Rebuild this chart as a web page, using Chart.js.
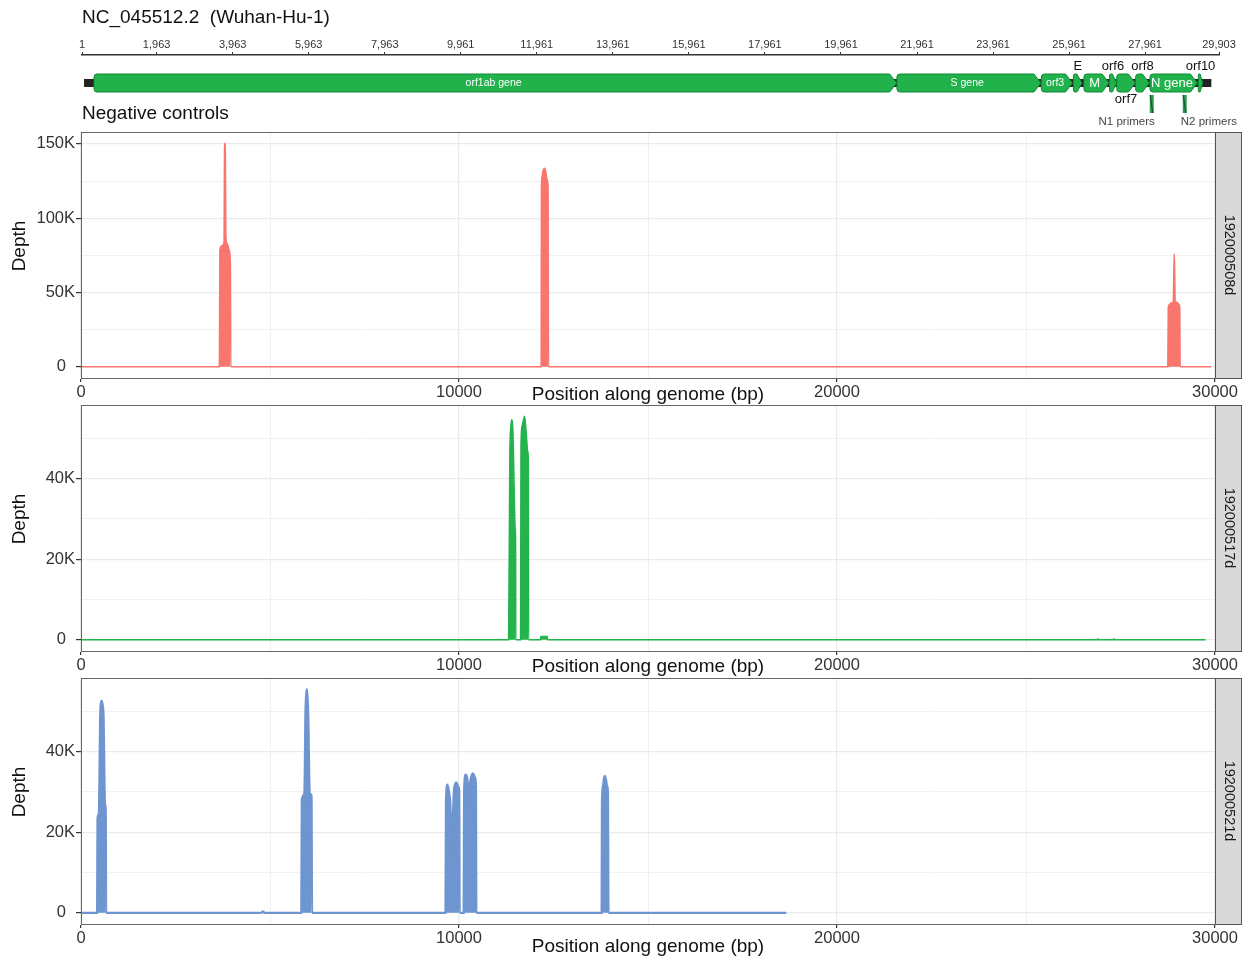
<!DOCTYPE html>
<html>
<head>
<meta charset="utf-8">
<title>Negative controls - depth along genome</title>
<script src="https://cdn.jsdelivr.net/npm/chart.js@4.4.1/dist/chart.umd.min.js"></script>
<style>
  body { margin: 0; background: #fff; }
  #page { position: relative; width: 1253px; height: 957px; overflow: hidden; font-family: "Liberation Sans", Arial, sans-serif; }
  canvas { position: absolute; left: 0; }
  .txt { position: absolute; left: 82px; font-size: 19px; line-height: 22px; color: #111; white-space: pre; }
</style>
</head>
<body>
<div id="page">
  <canvas id="genome" width="1253" height="128" style="top:0"></canvas>
  <canvas id="p508" width="1253" height="276" style="top:128px"></canvas>
  <canvas id="p517" width="1253" height="273" style="top:404px"></canvas>
  <canvas id="p521" width="1253" height="280" style="top:677px"></canvas>
  <div class="txt" style="top:6px">NC_045512.2  (Wuhan-Hu-1)</div>
  <div class="txt" style="top:102px">Negative controls</div>
</div>
<script>
Chart.defaults.font.family = '"Liberation Sans", Arial, sans-serif';
Chart.defaults.color = '#333';

// reference genome + annotation
const genomeLength = 29903;
const rulerTicks = [1, 1963, 3963, 5963, 7963, 9961, 11961, 13961, 15961, 17961, 19961, 21961, 23961, 25961, 27961, 29903];
const geneNames = ['orf1ab gene', 'S gene', 'orf3', 'E', 'M', 'orf6', 'orf7', 'orf8', 'N gene', 'orf10'];
const geneStart = [266, 21563, 25393, 26245, 26523, 27202, 27394, 27894, 28274, 29558];
const geneEnd = [21555, 25384, 26220, 26472, 27191, 27387, 27887, 28259, 29533, 29674];
const primerNames = ['N1 primers', 'N2 primers'];
const primerStart = [28287, 29164];
const primerEnd = [28358, 29230];

// depth per sample
const samples = ['192000508d', '192000517d', '192000521d'];

const pos508 = [1, 3661, 3674, 3700, 3753, 3785, 3795, 3806, 3819, 3832, 3846, 3885, 3925, 3951, 3964,
  12174, 12179, 12198, 12224, 12264, 12298, 12330, 12356, 12370,
  28751, 28764, 28796, 28836, 28896, 28912, 28923, 28933, 28946, 28994, 29047, 29068, 29078, 29903];
const depth508 = [0, 0, 78000, 81000, 82000, 84000, 140000, 150500, 145000, 90000, 84000, 82000, 78000, 70000, 0,
  0, 120000, 128000, 132000, 133700, 131000, 126000, 122000, 0,
  0, 40000, 42000, 43000, 43500, 65000, 76000, 65000, 44000, 43500, 42000, 40000, 0, 0];

const pos517 = [1, 11312, 11344, 11373, 11400, 11426, 11458, 11484, 11497, 11502,
  11629, 11640, 11669, 11735, 11788, 11814, 11834, 11841,
  12158, 12165, 12336, 12343, 26890, 26906, 26922, 27313, 27329, 27345, 29752];
const depth517 = [0, 0, 45000, 53000, 54700, 52000, 38000, 28000, 25000, 0,
  0, 48000, 53000, 55500, 50000, 47000, 45000, 0,
  0, 800, 800, 0, 0, 250, 0, 0, 250, 0, 0];

const pos521 = [1, 426, 436, 470, 486, 505, 526, 547, 574, 600, 618, 634, 655, 666,
  4780, 4795, 4830, 4845,
  5828, 5841, 5907, 5920, 5934, 5952, 5973, 5994, 6016, 6034, 6053, 6100, 6113,
  9642, 9655, 9693, 9727, 9767, 9801, 9822, 9843, 9872, 9930, 9978, 10007, 10018,
  10123, 10134, 10176, 10216, 10263, 10295, 10369, 10428, 10449, 10459,
  13773, 13781, 13810, 13837, 13858, 13890, 13919, 13940, 13956, 18660];
const depth521 = [0, 0, 23500, 24500, 32000, 48000, 52000, 52600, 51500, 48000, 35000, 27000, 25500, 0,
  0, 300, 300, 0,
  0, 28000, 29400, 35000, 48000, 53500, 55500, 53500, 48000, 36000, 29600, 29000, 0,
  0, 28000, 31800, 30500, 27500, 20000, 15000, 25000, 31000, 32400, 31500, 30000, 0,
  0, 30000, 34300, 33500, 29600, 32500, 34600, 33500, 31500, 0,
  0, 27000, 31500, 33500, 34000, 33000, 31500, 30000, 0, 0];

const xTicks = [0, 10000, 20000, 30000];
const yTicks508 = [0, 50000, 100000, 150000];
const yTicks517 = [0, 20000, 40000];
const yTicks521 = [0, 20000, 40000];

// labelled ticks plus the unlabelled ones half way between (minor grid)
function halfSteps(major, max) {
  const half = (major[1] - major[0]) / 2;
  const out = [];
  for (let v = major[0]; v <= max + 1e-6; v += half) out.push({ value: v });
  return out;
}

const genomeTrack = {
  id: 'genomeTrack',
  afterDraw(chart, args, o) {
    const ctx = chart.ctx;
    const xg = chart.scales.xg;
    const cy = o.trackY, h = o.geneHeight;
    const t = cy - h / 2, b = cy + h / 2;
    ctx.save();
    const b0 = xg.getPixelForValue(1), b1 = xg.getPixelForValue(genomeLength);
    ctx.fillStyle = '#222';
    ctx.fillRect(b0, cy - 4, b1 - b0, 8);

    geneNames.forEach((name, i) => {
      const x0 = xg.getPixelForValue(geneStart[i]);
      const x1 = xg.getPixelForValue(geneEnd[i]);
      const tip = Math.min(7, (x1 - x0) * 0.6);
      const r = Math.max(0, Math.min(3, (x1 - x0 - tip) / 2));
      ctx.beginPath();
      ctx.moveTo(x0 + r, t);
      ctx.lineTo(x1 - tip, t);
      ctx.lineTo(x1, cy);
      ctx.lineTo(x1 - tip, b);
      ctx.lineTo(x0 + r, b);
      ctx.quadraticCurveTo(x0, b, x0, b - r);
      ctx.lineTo(x0, t + r);
      ctx.quadraticCurveTo(x0, t, x0 + r, t);
      ctx.closePath();
      ctx.fillStyle = '#22b24c';
      ctx.fill();
      ctx.strokeStyle = '#0f8a35';
      ctx.lineWidth = 1;
      ctx.stroke();

      const side = o.labelSide[i];
      ctx.textAlign = 'center';
      ctx.textBaseline = 'middle';
      if (side === 'inside') {
        const size = o.bigLabels.includes(name) ? 13 : 10.5;
        ctx.font = size + 'px "Liberation Sans", Arial, sans-serif';
        ctx.fillStyle = '#fff';
        ctx.fillText(name, (x0 + x1 - tip / 2) / 2, cy + 0.5);
      } else {
        ctx.font = '13px "Liberation Sans", Arial, sans-serif';
        ctx.fillStyle = '#111';
        ctx.fillText(name, (x0 + x1) / 2, side === 'above' ? t - 8 : b + 7);
      }
    });

    primerNames.forEach((name, i) => {
      const px = xg.getPixelForValue((primerStart[i] + primerEnd[i]) / 2);
      const top = b + 3;
      ctx.fillStyle = '#2c9f4e';
      ctx.fillRect(px - 2, top, 4, 18);
      ctx.strokeStyle = '#0b5d24';
      ctx.lineWidth = 1.2;
      ctx.beginPath();
      ctx.moveTo(px - 1.5, top);
      ctx.lineTo(px + 1, top + 18);
      ctx.stroke();
      const align = o.primerAlign[i];
      ctx.font = '11.5px "Liberation Sans", Arial, sans-serif';
      ctx.fillStyle = '#444';
      ctx.textAlign = align;
      ctx.textBaseline = 'middle';
      ctx.fillText(name, align === 'right' ? px + 3 : px - 4, o.primerLabelY);
    });
    ctx.restore();
  }
};

new Chart(document.getElementById('genome'), {
  type: 'scatter',
  data: { datasets: [] },
  options: {
    responsive: false,
    animation: false,
    events: [],
    layout: { padding: { top: 38, left: 82, right: 34, bottom: 0 } },
    plugins: {
      legend: { display: false },
      tooltip: { enabled: false },
      genomeTrack: {
        trackY: 83,
        geneHeight: 18,
        labelSide: ['inside', 'inside', 'inside', 'above', 'inside', 'above', 'below', 'above', 'inside', 'above'],
        bigLabels: ['M', 'N gene'],
        primerAlign: ['right', 'left'],
        primerLabelY: 122
      }
    },
    scales: {
      x: {
        type: 'linear',
        position: 'top',
        min: 1,
        max: genomeLength,
        afterBuildTicks: s => { s.ticks = rulerTicks.map(v => ({ value: v })); },
        afterFit: s => { s.height = 17; },
        ticks: { autoSkip: false, maxRotation: 0, padding: 0, font: { size: 11 }, color: '#333',
          callback: v => v.toLocaleString('en-US') },
        grid: { drawOnChartArea: false, tickLength: 3, tickColor: '#333', color: '#333' },
        border: { color: '#333', width: 1.5 }
      },
      // the gene drawing is a little narrower than the ruler
      xg: { type: 'linear', axis: 'x', display: false, min: -53, max: 30106 },
      y: { display: false, min: 0, max: 1 }
    }
  },
  plugins: [genomeTrack]
});

const panelFrame = {
  id: 'panelFrame',
  afterDraw(chart, args, o) {
    const { ctx, chartArea: a } = chart;
    ctx.save();
    ctx.strokeStyle = '#666';
    ctx.lineWidth = 1;
    ctx.strokeRect(a.left + 0.5, a.top + 0.5, a.right - a.left, a.bottom - a.top);
    ctx.fillStyle = '#d9d9d9';
    ctx.fillRect(a.right, a.top, 26, a.bottom - a.top);
    ctx.strokeStyle = '#555';
    ctx.strokeRect(a.right + 0.5, a.top + 0.5, 26, a.bottom - a.top);

    // y title sits a little above the panel centre in the original
    ctx.save();
    ctx.translate(20, (a.top + a.bottom) / 2 - 9);
    ctx.rotate(-Math.PI / 2);
    ctx.fillStyle = '#111';
    ctx.font = '19px "Liberation Sans", Arial, sans-serif';
    ctx.textAlign = 'center';
    ctx.textBaseline = 'middle';
    ctx.fillText(o.yTitle, 0, 0);
    ctx.restore();

    ctx.translate(a.right + 13.5, (a.top + a.bottom) / 2);
    ctx.rotate(Math.PI / 2);
    ctx.fillStyle = '#1a1a1a';
    ctx.font = '14.5px "Liberation Sans", Arial, sans-serif';
    ctx.textAlign = 'center';
    ctx.textBaseline = 'middle';
    ctx.fillText(o.strip, 0, 0);
    ctx.restore();
  }
};

function depthPanel(id, pos, depth, colour, lineWidth, yTicks, strip, box) {
  const peak = Math.max(...depth);
  const gridWidth = list => c => (c.tick && list.includes(c.tick.value)) ? 1.2 : 0.7;
  const tickColour = list => c => (c.tick && list.includes(c.tick.value)) ? '#333' : 'rgba(0,0,0,0)';
  return new Chart(document.getElementById(id), {
    type: 'line',
    data: {
      datasets: [{
        data: pos.map((p, i) => ({ x: p, y: depth[i] })),
        borderColor: colour,
        backgroundColor: colour,
        borderWidth: lineWidth,
        fill: 'origin',
        pointRadius: 0,
        cubicInterpolationMode: 'monotone'
      }]
    },
    options: {
      responsive: false,
      animation: false,
      events: [],
      layout: { padding: { top: box.top, right: 38, left: 0, bottom: 0 } },
      plugins: {
        legend: { display: false },
        tooltip: { enabled: false },
        panelFrame: { strip: strip, yTitle: 'Depth' }
      },
      scales: {
        x: {
          type: 'linear',
          min: 0,
          max: 30000,
          afterBuildTicks: s => { s.ticks = halfSteps(xTicks, s.max); },
          afterFit: s => { s.height = box.axis; s.paddingLeft = 0; s.paddingRight = 0; },
          ticks: { autoSkip: false, maxRotation: 0, padding: 0.5, font: { size: 16.5 }, color: '#333',
            callback: v => xTicks.includes(v) ? String(v) : '' },
          grid: { color: '#ebebeb', lineWidth: gridWidth(xTicks), tickLength: 4, tickColor: tickColour(xTicks) },
          border: { color: '#555', width: 1 },
          title: { display: true, text: 'Position along genome (bp)', font: { size: 19 }, color: '#111',
            padding: { top: 0, bottom: box.titlePad } }
        },
        y: {
          min: -peak * 0.05,
          max: peak * 1.05,
          afterBuildTicks: s => { s.ticks = halfSteps(yTicks, s.max); },
          afterFit: s => { s.width = 81; s.paddingTop = 0; s.paddingBottom = 0; },
          ticks: { autoSkip: false, padding: 1, font: { size: 16.5 }, color: '#333',
            callback: v => !yTicks.includes(v) ? '' : (v === 0 ? '0  ' : (v / 1000) + 'K') },
          grid: { color: '#ebebeb', lineWidth: gridWidth(yTicks), tickLength: 5, tickColor: tickColour(yTicks) },
          border: { color: '#555', width: 1 }
        }
      }
    },
    plugins: [panelFrame]
  });
}

depthPanel('p508', pos508, depth508, '#F8766D', 1.5, yTicks508, samples[0], { top: 4, axis: 26, titlePad: -2 });
depthPanel('p517', pos517, depth517, '#25b34b', 1.5, yTicks517, samples[1], { top: 1, axis: 26, titlePad: -1 });
depthPanel('p521', pos521, depth521, '#6e95d0', 2.2, yTicks521, samples[2], { top: 1, axis: 33, titlePad: -1.4 });
</script>
</body>
</html>
